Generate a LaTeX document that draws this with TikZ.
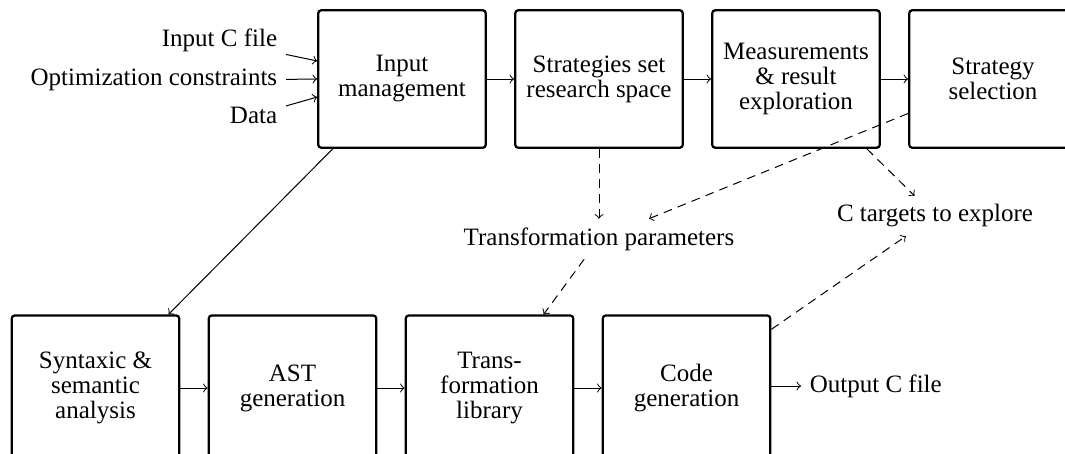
\documentclass[tikz,border=0pt]{standalone}
\usepackage{fontspec}
\setmainfont{Liberation Serif}
\begin{document}
\begin{tikzpicture}[x=0.4pt,y=-0.4pt,
  box/.style={draw, line width=0.9pt, rounded corners=1.2pt, minimum width=67pt, minimum height=55pt, align=center, font=\fontsize{10}{10}\selectfont},
  lowbox/.style={box, minimum height=58pt},
  lbl/.style={font=\fontsize{10}{10}\selectfont, inner sep=3.33pt},
  conn/.style={->, line width=0.4pt},
  dconn/.style={conn, dash pattern=on 3.5pt off 2.5pt}]
\useasboundingbox (0,0) rectangle (1065,453);
\node[box] (inp) at (402,79) {Input\\management};
\node[box] (str) at (599,79) {Strategies set\\research space};
\node[box] (mea) at (796,79) {Measurements\\\& result\\exploration};
\node[box] (sel) at (993,79) {Strategy\\selection};
\node[lowbox] (syn) at (95.5,388) {Syntaxic \&\\semantic\\analysis};
\node[lowbox] (ast) at (292.5,388) {AST\\generation};
\node[lowbox] (trl) at (489.5,388) {Trans-\\formation\\library};
\node[lowbox] (cod) at (686.5,388) {Code\\generation};
\node[lbl, anchor=base east] (in1) at (286,46.7) {Input C file};
\node[lbl, anchor=base east] (in2) at (286,85) {Optimization constraints};
\node[lbl, anchor=base east] (in3) at (286,123.3) {Data};
\node[lbl] (par) at (599,239) {Transformation parameters};
\node[lbl] (ctg) at (935,216) {C targets to explore};
\node[lbl, anchor=west] (out) at (801,386) {Output C file};
\draw[conn] (in1) -- (inp.168);
\draw[conn] (in2.east) -- (inp.west);
\draw[conn] (in3) -- (inp.192);
\draw[conn] (inp) -- (str);
\draw[conn] (str) -- (mea);
\draw[conn] (mea) -- (sel);
\draw[conn] (inp) -- (syn);
\draw[conn] (syn) -- (ast);
\draw[conn] (ast) -- (trl);
\draw[conn] (trl) -- (cod);
\draw[conn] (cod.east |- out.west) -- (out);
\draw[dconn] (str) -- (par);
\draw[dconn] (sel) -- (par);
\draw[dconn] (mea) -- (ctg);
\draw[dconn] (cod) -- (ctg);
\draw[dconn] (par) -- (trl);
\end{tikzpicture}
\end{document}
